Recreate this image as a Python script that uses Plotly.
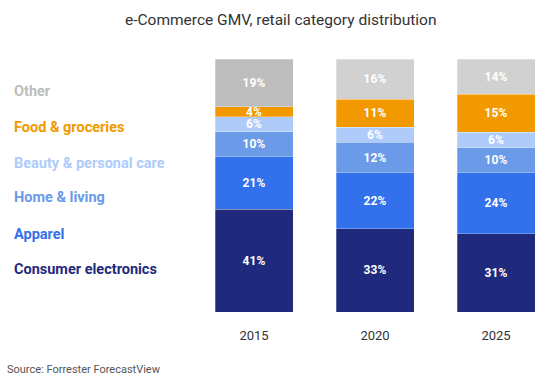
import plotly.graph_objects as go

years = ["2015", "2020", "2025"]
categories = ["Consumer electronics", "Apparel", "Home & living",
              "Beauty & personal care", "Food & groceries", "Other"]
consumer_electronics = [41, 33, 31]
apparel = [21, 22, 24]
home_living = [10, 12, 10]
beauty = [6, 6, 6]
food = [4, 11, 15]
other = [19, 16, 14]

series = [consumer_electronics, apparel, home_living, beauty, food, other]
colors = ["#1f2a7d", "#3370eb", "#6a9ae8", "#aecbfa", "#f29900",
          ["#bdbdbd", "#d1d1d1", "#d1d1d1"]]
label_colors = ["#1f2a7d", "#3370eb", "#6a9ae8", "#aecbfa", "#f29900", "#bdbdbd"]

fig = go.Figure()
for name, vals, col in zip(categories, series, colors):
    fig.add_trace(go.Bar(
        x=years, y=vals, name=name,
        marker=dict(color=col, line=dict(color="rgba(255,255,255,0.35)", width=0.8)),
        text=[f"{v}%" for v in vals],
        textposition="inside", insidetextanchor="middle",
        textfont=dict(color="white", size=12, family="Roboto", weight="bold"),
        hoverinfo="skip",
    ))

# plot area geometry (pixels)
L, R, T, B = 180, 554, 59, 312
W, H = 554, 384

annotations = []
label_y = [269, 234, 198, 163, 127, 91]
for name, c, yp in zip(categories, label_colors, label_y):
    annotations.append(dict(
        text=f"<b>{name}</b>", xref="paper", yref="paper",
        x=(12 - L) / (R - L), y=(B - yp) / (B - T),
        xanchor="left", yanchor="middle", showarrow=False,
        font=dict(size=14.5, color=c, family="Roboto"),
    ))
annotations.append(dict(
    text="Source: Forrester ForecastView", xref="paper", yref="paper",
    x=(5 - L) / (R - L), y=(B - 369) / (B - T),
    xanchor="left", yanchor="middle", showarrow=False,
    font=dict(size=11, color="#555555", family="Roboto"),
))
annotations.append(dict(
    text="e-Commerce GMV, retail category distribution", xref="paper", yref="paper",
    x=(281 - L) / (R - L), y=(B - 20) / (B - T),
    xanchor="center", yanchor="middle", showarrow=False,
    font=dict(size=15.5, color="#333333", family="Roboto"),
))

fig.update_layout(
    width=W, height=H,
    margin=dict(l=L, r=W - R, t=T, b=H - B, pad=0),
    barmode="stack", barnorm="percent", bargap=1 - 78 / 121,
    plot_bgcolor="white", paper_bgcolor="white",
    showlegend=False,
    uniformtext=dict(minsize=12, mode="show"),
    annotations=annotations,
    xaxis=dict(type="category", range=[-74 / 121, -74 / 121 + (R - L) / 121],
               showgrid=False, zeroline=False, showline=False,
               ticklabelstandoff=14,
               tickfont=dict(size=13, color="#333333", family="Roboto")),
    yaxis=dict(range=[0, 100], visible=False, showgrid=False, zeroline=False),
)

fig.write_html("out.html", config={"displayModeBar": False},
               post_script="document.body.style.margin='0px';")
